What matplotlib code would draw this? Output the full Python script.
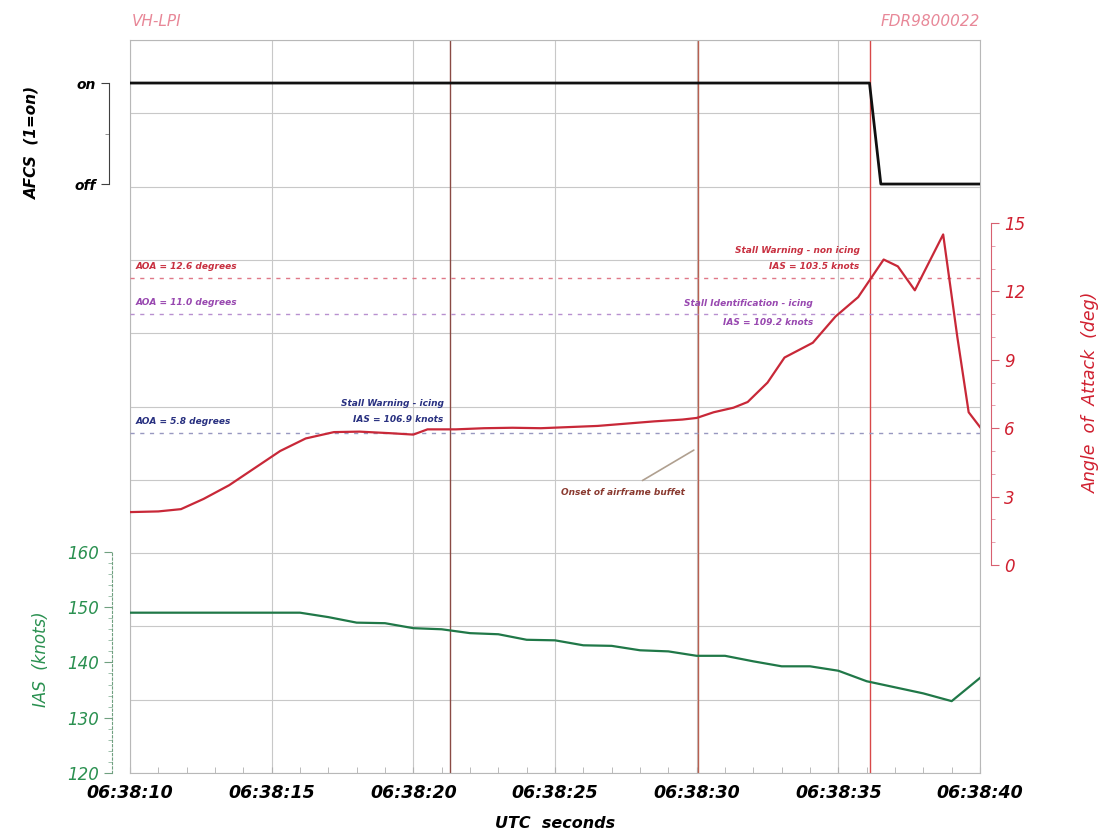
import matplotlib.pyplot as plt
from matplotlib.ticker import MultipleLocator, FixedLocator

plt.rcParams['font.family'] = 'DejaVu Sans'

# time axis: seconds after 06:38:00 UTC
x_ticks = [10, 15, 20, 25, 30, 35, 40]
x_labels = ['06:38:10', '06:38:15', '06:38:20', '06:38:25',
            '06:38:30', '06:38:35', '06:38:40']

# AFCS engagement (1 = on)
afcs_t = [10, 36.1, 36.5, 40]
afcs = [1, 1, 0, 0]

# angle of attack (deg)
aoa_t = [10.0, 11.0, 11.8, 12.6, 13.5, 14.4, 15.3, 16.2, 17.2, 18.1, 19.2,
         20.0, 20.5, 21.5, 22.5, 23.5, 24.5, 25.5, 26.5, 27.5, 28.5, 29.5,
         30.0, 30.6, 31.3, 31.8, 32.5, 33.1, 34.1, 34.9, 35.7, 36.6, 37.1,
         37.7, 38.7, 39.2, 39.6, 40.0]
aoa = [2.32, 2.35, 2.45, 2.9, 3.5, 4.25, 5.0, 5.55, 5.83, 5.85, 5.78,
       5.72, 5.95, 5.95, 6.0, 6.02, 6.0, 6.05, 6.1, 6.2, 6.3, 6.38,
       6.45, 6.7, 6.9, 7.15, 8.0, 9.1, 9.75, 10.9, 11.75, 13.4, 13.1,
       12.05, 14.5, 10.0, 6.7, 6.05]

# indicated airspeed (knots), 1 Hz
ias_t = list(range(10, 41))
ias = [149, 149, 149, 149, 149, 149, 149, 148.2, 147.2, 147.1, 146.2,
       146.0, 145.3, 145.1, 144.1, 144.0, 143.1, 143.0, 142.2, 142.0, 141.2,
       141.2, 140.2, 139.3, 139.3, 138.5, 136.6, 135.5, 134.4, 133.0, 137.2]

# event markers
event_t = [21.3, 30.05, 36.1]
event_colors = ['#8a4a44', '#b86050', '#d84848']

# reference AOA levels
ref_aoa = [12.6, 11.0, 5.8]
ref_labels = ['AOA = 12.6 degrees', 'AOA = 11.0 degrees', 'AOA = 5.8 degrees']
ref_text_colors = ['#c83040', '#9848b0', '#283080']
ref_line_colors = ['#e07888', '#b890d0', '#9898c0']

W, H = 1104, 835
fig = plt.figure(figsize=(W / 100, H / 100), dpi=100)
L, R, T, B = 130, 980, 40, 773
rect = [L / W, 1 - B / H, (R - L) / W, (B - T) / H]

ax = fig.add_axes(rect)
ax.set_xlim(10, 40)
ax.set_ylim(0, 10)
ax.set_yticks(range(11))
ax.set_xticks(x_ticks)
ax.set_xticklabels(x_labels, fontsize=12.5, fontweight='bold', style='italic')
ax.xaxis.set_minor_locator(MultipleLocator(1))
ax.grid(True, color='#c8c8c8', lw=0.8)
for s in ax.spines.values():
    s.set_color('#b8b8b8')
ax.set_xlabel('UTC  seconds', fontsize=11.5, fontweight='bold', style='italic', labelpad=10)

for t, c in zip(event_t, event_colors):
    ax.axvline(t, color=c, lw=1.0)

# AFCS axis
ax1 = ax.twinx()
ax1.yaxis.set_ticks_position('left')
ax1.yaxis.set_label_position('left')
ax1.set_ylim(-5.831, 1.426)
for k in ['top', 'right', 'bottom']:
    ax1.spines[k].set_visible(False)
ax1.spines['left'].set_position(('outward', 15))
ax1.spines['left'].set_bounds(0, 1)
ax1.spines['left'].set_color('#404040')
ax1.set_yticks([0, 1])
ax1.set_yticklabels(['off', 'on'], fontsize=10, fontweight='bold', style='italic')
ax1.yaxis.set_minor_locator(FixedLocator([0.5]))
ax1.tick_params(axis='y', which='major', length=6, color='#404040')
ax1.tick_params(axis='y', which='minor', length=3, color='#808080')
ax1.plot(afcs_t, afcs, color='#101010', lw=2)
ax1.text(-0.115, 0.86, 'AFCS  (1=on)', transform=ax1.transAxes, rotation=90,
         ha='center', va='center', fontsize=11, fontweight='bold', style='italic')

# AOA axis
ax2 = ax.twinx()
ax2.set_ylim(-9.125, 23.03)
for k in ['top', 'left', 'bottom']:
    ax2.spines[k].set_visible(False)
ax2.spines['right'].set_position(('outward', 8))
ax2.spines['right'].set_bounds(0, 15)
ax2.spines['right'].set_color('#d86070')
ax2.set_yticks([0, 3, 6, 9, 12, 15])
ax2.set_yticklabels(['0', '3', '6', '9', '12', '15'], fontsize=12, style='italic', color='#d02030')
ax2.yaxis.set_minor_locator(FixedLocator(list(range(0, 16))))
ax2.tick_params(axis='y', which='major', length=6, color='#d86070')
ax2.tick_params(axis='y', which='minor', length=3, color='#e090a0')
for lvl, tc, lc, lab in zip(ref_aoa, ref_text_colors, ref_line_colors, ref_labels):
    ax2.axhline(lvl, color=lc, lw=1.0, ls=(0, (3, 4)))
    ax2.text(10.18, lvl + 0.5, lab, color=tc, fontsize=6.5, fontweight='bold',
             style='italic', ha='left', va='center')
ax2.plot(aoa_t, aoa, color='#c82838', lw=1.6)
ax2.text(1.13, 0.52, 'Angle  of  Attack  (deg)', transform=ax2.transAxes, rotation=90,
         ha='center', va='center', fontsize=12.5, style='italic', color='#d02030')

ax2.text(35.75, 13.8, 'Stall Warning - non icing', color='#c83040', fontsize=6.5,
         fontweight='bold', style='italic', ha='right', va='center')
ax2.text(35.75, 13.1, 'IAS = 103.5 knots', color='#c83040', fontsize=6.5,
         fontweight='bold', style='italic', ha='right', va='center')
ax2.text(34.1, 11.45, 'Stall Identification - icing', color='#9848b0', fontsize=6.5,
         fontweight='bold', style='italic', ha='right', va='center')
ax2.text(34.1, 10.65, 'IAS = 109.2 knots', color='#9848b0', fontsize=6.5,
         fontweight='bold', style='italic', ha='right', va='center')
ax2.text(21.07, 7.1, 'Stall Warning - icing', color='#283080', fontsize=6.5,
         fontweight='bold', style='italic', ha='right', va='center')
ax2.text(21.07, 6.4, 'IAS = 106.9 knots', color='#283080', fontsize=6.5,
         fontweight='bold', style='italic', ha='right', va='center')
ax2.annotate('Onset of airframe buffet', xy=(29.9, 5.04), xytext=(27.4, 3.2),
             color='#8a3a30', fontsize=6.5, fontweight='bold', style='italic',
             ha='center', va='center',
             arrowprops=dict(arrowstyle='-', color='#b0a090', lw=1.2,
                             shrinkA=6, shrinkB=0))

# IAS axis
ax3 = ax.twinx()
ax3.yaxis.set_ticks_position('left')
ax3.yaxis.set_label_position('left')
ax3.set_ylim(120, 252.6)
for k in ['top', 'right', 'bottom']:
    ax3.spines[k].set_visible(False)
ax3.spines['left'].set_position(('outward', 13))
ax3.spines['left'].set_bounds(120, 160)
ax3.spines['left'].set_color('#70a080')
ax3.spines['left'].set_linestyle((0, (2, 2)))
ax3.set_yticks([120, 130, 140, 150, 160])
ax3.set_yticklabels(['120', '130', '140', '150', '160'], fontsize=12, style='italic', color='#2a9050')
ax3.yaxis.set_minor_locator(FixedLocator(list(range(120, 161, 2))))
ax3.tick_params(axis='y', which='major', length=6, color='#70a080')
ax3.tick_params(axis='y', which='minor', length=3, color='#90b8a0')
ax3.plot(ias_t, ias, color='#207848', lw=1.6)
ax3.text(-0.105, 0.155, 'IAS  (knots)', transform=ax3.transAxes, rotation=90,
         ha='center', va='center', fontsize=12, style='italic', color='#2a9050')

# base axes: hide its y ticks (twinx turns them back on)
ax.tick_params(axis='y', which='both', left=False, right=False,
               labelleft=False, labelright=False)
ax.tick_params(axis='x', which='both', direction='in', length=4, color='#b0b0b0', pad=8)

fig.text(L / W + 0.002, 1 - 22 / H, 'VH-LPI', fontsize=11, style='italic',
         color='#e88898', ha='left', va='center')
fig.text(R / W, 1 - 22 / H, 'FDR9800022', fontsize=11, style='italic',
         color='#e88898', ha='right', va='center')

fig.savefig('out.png', dpi=100)
